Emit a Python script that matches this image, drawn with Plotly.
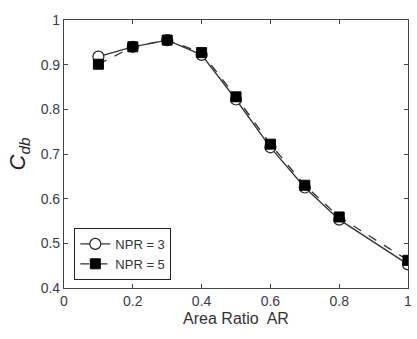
import plotly.graph_objects as go

ar = [0.1, 0.2, 0.3, 0.4, 0.5, 0.6, 0.7, 0.8, 1.0]
npr3 = [0.918, 0.940, 0.955, 0.922, 0.822, 0.715, 0.625, 0.553, 0.453]
npr5 = [0.901, 0.940, 0.955, 0.927, 0.828, 0.722, 0.630, 0.559, 0.462]

fig = go.Figure()
fig.add_trace(go.Scatter(
    x=ar, y=npr3, name="NPR = 3", mode="lines+markers",
    line=dict(color="#333333", width=1.3),
    marker=dict(symbol="circle", size=11, color="white", line=dict(color="#222222", width=1.2)),
))
fig.add_trace(go.Scatter(
    x=ar, y=npr5, name="NPR = 5", mode="lines+markers",
    line=dict(color="#333333", width=1.3, dash="dash"),
    marker=dict(symbol="square", size=10, color="black", line=dict(color="black", width=1)),
))

axis_common = dict(
    showgrid=False, zeroline=False, showline=True, linecolor="#444444", linewidth=1.2,
    mirror="ticks", ticks="inside", ticklen=4, tickcolor="#444444",
    tickfont=dict(family="Liberation Sans, Arial", size=14, color="#3a3a4a"),
)
fig.update_xaxes(range=[0, 1], dtick=0.2, tick0=0,
                 title=dict(text="Area Ratio  AR", font=dict(family="Liberation Sans, Arial", size=16, color="#333333"), standoff=4),
                 **axis_common)
fig.update_yaxes(range=[0.4, 1], dtick=0.1, tick0=0.4,
                 title=dict(text="<i>C</i><sub><i>db</i></sub>", font=dict(family="Liberation Sans, Arial", size=22, color="#222222"), standoff=8),
                 **axis_common)

fig.update_layout(
    width=417, height=339,
    margin=dict(l=64, r=5, t=20, b=51),
    paper_bgcolor="white", plot_bgcolor="white",
    legend=dict(x=0.03, y=0.03, xanchor="left", yanchor="bottom",
                bordercolor="#222222", borderwidth=1, bgcolor="white",
                font=dict(family="Liberation Sans, Arial", size=13, color="#333333"),
                tracegroupgap=0, itemwidth=30),
    showlegend=True,
)

fig.write_html("out.html")
